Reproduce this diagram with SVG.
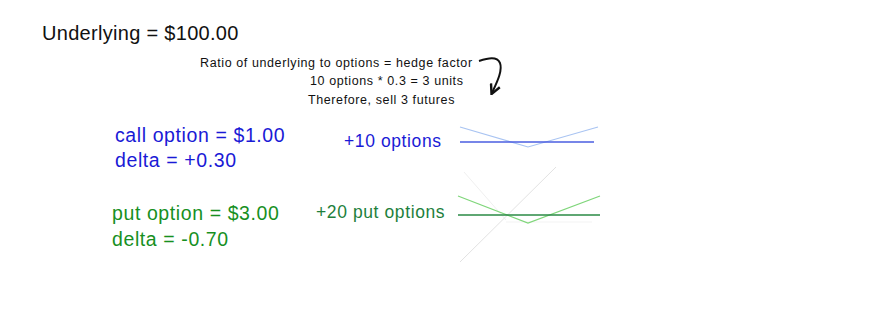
<svg xmlns="http://www.w3.org/2000/svg" width="892" height="328" viewBox="0 0 892 328">
  <style>
    text { font-family: "Liberation Sans", "DejaVu Sans", sans-serif; }
    .title { font-size: 20px; letter-spacing: 0.3px; fill: #111; }
    .note { font-size: 12.5px; letter-spacing: 0.6px; fill: #111; }
    .blue { font-size: 19.5px; letter-spacing: 0.6px; fill: #1a1ad6; }
    .green { font-size: 19.5px; letter-spacing: 0.6px; fill: #17901f; }
    .lbl-blue { font-size: 17.5px; letter-spacing: 0.6px; fill: #1a1ad6; }
    .lbl-green { font-size: 17.5px; letter-spacing: 0.6px; fill: #1e7f3c; }
    .thin { fill: none; stroke-width: 1.2; }
  </style>
  <defs>
    <marker id="head" viewBox="0 0 10 10" refX="8" refY="5" markerWidth="6" markerHeight="6" orient="auto" markerUnits="strokeWidth">
      <path d="M1,1 L9,5 L1,9" fill="none" stroke="#111" stroke-width="2"/>
    </marker>
  </defs>

  <rect width="892" height="328" fill="#fff"/>

  <g id="underlying">
    <text class="title" x="42" y="40">Underlying = $100.00</text>
  </g>

  <g id="hedge-note">
    <text class="note" x="200" y="67">Ratio of underlying to options = hedge factor</text>
    <text class="note" x="310" y="85">10 options * 0.3 = 3 units</text>
    <text class="note" x="308" y="104">Therefore, sell 3 futures</text>
  </g>

  <g id="call">
    <text class="blue" x="115" y="142">call option = $1.00</text>
    <text class="blue" x="115" y="167">delta = +0.30</text>
  </g>

  <g id="put">
    <text class="green" x="112" y="220">put option = $3.00</text>
    <text class="green" x="112" y="246">delta = -0.70</text>
  </g>

  <g id="call-position">
    <text class="lbl-blue" x="344" y="147">+10 options</text>
    <polyline class="thin" points="460,127 528,147 598,127" stroke="#a9c4f2"/>
    <line x1="460" y1="142" x2="594" y2="142" stroke="#4a5ee0" stroke-width="1.4"/>
  </g>

  <g id="put-position">
    <text class="lbl-green" x="316" y="218">+20 put options</text>
    <line x1="464" y1="172" x2="506" y2="220" stroke="#f0f0f0" stroke-width="1"/>
    <line x1="506" y1="222" x2="592" y2="222" stroke="#f3f3f3" stroke-width="1"/>
    <line x1="460" y1="262" x2="556" y2="167" stroke="#e2e2e2" stroke-width="1"/>
    <polyline class="thin" points="458,196 528,223 600,196" stroke="#7fd67a"/>
    <line x1="458" y1="215" x2="600" y2="215" stroke="#2a8a45" stroke-width="1.4"/>
  </g>

  <g id="connectors">
    <path d="M479,61 C488,58 497,56 500,63 C503,71 496,84 492,93" fill="none" stroke="#111" stroke-width="2" marker-end="url(#head)"/>
  </g>
</svg>
